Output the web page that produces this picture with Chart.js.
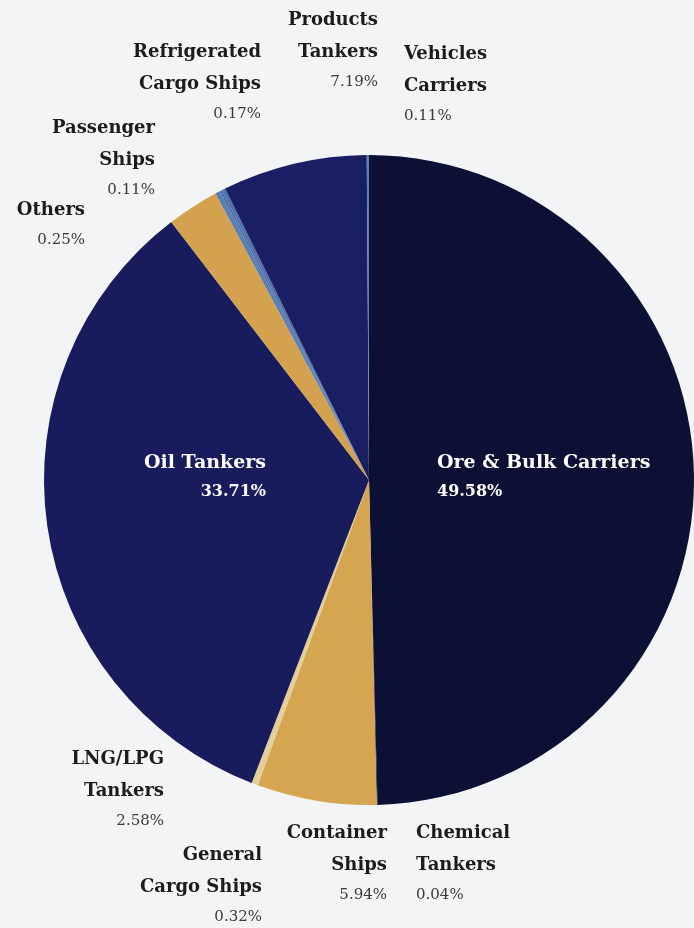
<!DOCTYPE html>
<html>
<head>
<meta charset="utf-8">
<script src="https://cdn.jsdelivr.net/npm/chart.js@4/dist/chart.umd.min.js"></script>
<style>
    html, body { margin: 0; padding: 0; background: #f3f4f6; }
    #wrap { position: relative; width: 694px; height: 928px; }
</style>
</head>
<body>
<div id="wrap"><canvas id="fleetChart"></canvas></div>
<script>
// Fleet composition by ship type (share of tonnage, %)
const shipTypes = [
    'Ore & Bulk Carriers', 'Chemical Tankers', 'Container Ships', 'General Cargo Ships',
    'Oil Tankers', 'LNG/LPG Tankers', 'Others', 'Passenger Ships',
    'Refrigerated Cargo Ships', 'Products Tankers', 'Vehicles Carriers'
];
const shares = [49.58, 0.04, 5.94, 0.32, 33.71, 2.58, 0.25, 0.11, 0.17, 7.19, 0.11];
const shareLabels = ['49.58%', '0.04%', '5.94%', '0.32%', '33.71%', '2.58%', '0.25%', '0.11%', '0.17%', '7.19%', '0.11%'];

const sliceColors = [
    '#0b1034', '#101540', '#d5a550', '#e4cf9a',
    '#181c5c', '#d4a24e', '#5b7fb4', '#4a6ca6',
    '#4f72ab', '#1a1f63', '#5a80b8'
];

// Where each label block sits: [lines of name], anchor x, first line y, alignment, colour
const labelLayout = [
    { i: 0,  lines: ['Ore & Bulk Carriers'], x: 437, y: 463, align: 'left',  color: '#ffffff' },
    { i: 4,  lines: ['Oil Tankers'],         x: 266, y: 463, align: 'right', color: '#ffffff' },
    { i: 8,  lines: ['Refrigerated', 'Cargo Ships'], x: 261, y: 52, align: 'right' },
    { i: 9,  lines: ['Products', 'Tankers'], x: 378, y: 20, align: 'right' },
    { i: 10, lines: ['Vehicles', 'Carriers'], x: 404, y: 54, align: 'left' },
    { i: 7,  lines: ['Passenger', 'Ships'], x: 155, y: 128, align: 'right' },
    { i: 6,  lines: ['Others'], x: 85, y: 210, align: 'right' },
    { i: 5,  lines: ['LNG/LPG', 'Tankers'], x: 164, y: 759, align: 'right' },
    { i: 3,  lines: ['General', 'Cargo Ships'], x: 262, y: 855, align: 'right' },
    { i: 2,  lines: ['Container', 'Ships'], x: 387, y: 833, align: 'right' },
    { i: 1,  lines: ['Chemical', 'Tankers'], x: 416, y: 833, align: 'left' }
];

// Draw the name + percentage blocks
const labelPlugin = {
    id: 'shipLabels',
    afterDraw(chart) {
        const ctx = chart.ctx;
        ctx.save();
        ctx.textBaseline = 'middle';
        labelLayout.forEach(l => {
            const inside = l.color === '#ffffff';
            ctx.textAlign = l.align;
            let y = l.y;
            ctx.fillStyle = l.color || '#1c1c1c';
            ctx.font = 'bold ' + (inside ? 19 : 18) + 'px "DejaVu Serif"';
            l.lines.forEach(line => {
                ctx.fillText(line, l.x, y);
                y += inside ? 30 : 32;
            });
            ctx.fillStyle = inside ? '#ffffff' : '#3a3a3a';
            ctx.font = (inside ? 'bold 16px' : '15px') + ' "DejaVu Serif"';
            ctx.fillText(shareLabels[l.i], l.x, y - (inside ? 1 : 2));
        });
        ctx.restore();
    }
};

const ctx = document.getElementById('fleetChart').getContext('2d');
new Chart(ctx, {
    type: 'pie',
    data: {
        labels: shipTypes,
        datasets: [{
            data: shares,
            backgroundColor: sliceColors,
            borderWidth: 0
        }]
    },
    options: {
        responsive: true,
        maintainAspectRatio: false,
        animation: false,
        layout: {
            padding: { left: 44, right: 0, top: 155, bottom: 123 }
        },
        plugins: {
            legend: { display: false },
            tooltip: { enabled: false }
        }
    },
    plugins: [labelPlugin]
});
</script>
</body>
</html>
